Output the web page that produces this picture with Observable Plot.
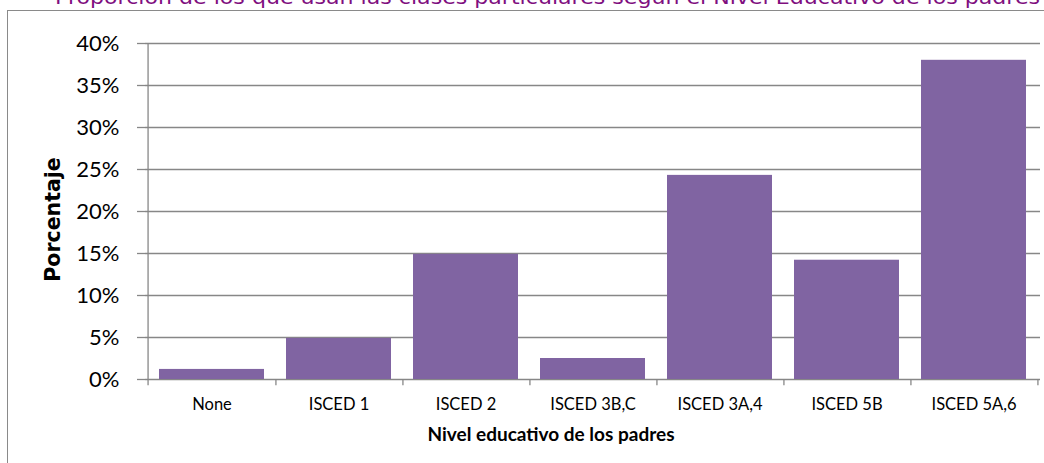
<!DOCTYPE html>
<html>
<head>
<meta charset="utf-8">
<script src="https://cdn.jsdelivr.net/npm/d3@7"></script>
<script src="https://cdn.jsdelivr.net/npm/@observablehq/plot@0.6"></script>
<style>
  html, body { margin: 0; padding: 0; background: #fff; overflow: hidden; }
  #wrap { position: relative; width: 1044px; height: 463px; overflow: hidden; }
  #frame { position: absolute; left: 7px; top: 10px; width: 1100px; height: 500px;
           border-left: 1.5px solid #8a8a8a; border-top: 1.5px solid #8a8a8a; }
  #title { position: absolute; left: 55px; top: -14px; transform-origin: 0 0;
           font-family: "DejaVu Sans", sans-serif; font-size: 19px; color: #7f0f7f; white-space: nowrap; }
  #chart { position: absolute; left: 0; top: 0; }
</style>
</head>
<body>
<div id="wrap">
  <div id="frame"></div>
  <span id="title">Proporción de los que usan las clases particulares según el Nivel Educativo de los padres</span>
  <div id="chart"></div>
</div>
<script>
const categories = ["None", "ISCED 1", "ISCED 2", "ISCED 3B,C", "ISCED 3A,4", "ISCED 5B", "ISCED 5A,6"];
const values = [1.2, 4.9, 14.9, 2.5, 24.3, 14.2, 38.0];
const yTicks = [0, 5, 10, 15, 20, 25, 30, 35, 40];
const yTitle = "Porcentaje";
const xTitle = "Nivel educativo de los padres";

const data = categories.map((c, i) => ({cat: c, value: values[i]}));

const W = 1044, H = 463;
const mL = 145, mR = 4, mT = 43, mB = 84;
const step = (W - mL - mR) / categories.length;
const grey = "#878787";
const font = "Lato, 'Open Sans', sans-serif";

const chart = Plot.plot({
  width: W, height: H,
  marginLeft: mL, marginRight: mR, marginTop: mT, marginBottom: mB,
  style: {fontFamily: font, background: "transparent", color: "#000", overflow: "visible"},
  x: {domain: categories, paddingInner: 0.17, paddingOuter: 0.085, label: null},
  y: {domain: [0, 40], label: null},
  marks: [
    Plot.ruleY(yTicks, {stroke: grey, strokeWidth: 1.3}),
    Plot.barY(data, {x: "cat", y: "value", fill: "#8064A2"}),
    Plot.ruleX([categories[0]], {stroke: grey, strokeWidth: 1.3, dx: -step / 2, y1: -0.75, y2: 40}),
    Plot.ruleX(categories, {stroke: grey, strokeWidth: 1.3, dx: step / 2, y1: 0, y2: -0.75}),
    Plot.axisY({ticks: yTicks, tickFormat: d => d + "%", tickSize: 8, tickPadding: 18, fontSize: 22,
                stroke: grey, strokeWidth: 1.3, label: null}),
    Plot.axisX({tickSize: 0, tickPadding: 19, fontSize: 16.5, label: null}),
    Plot.text([xTitle], {frameAnchor: "bottom", textAnchor: "middle", dx: -42, dy: 61, fontSize: 19,
                         fontWeight: "bold", fill: "#000"}),
    Plot.text([yTitle], {frameAnchor: "left", textAnchor: "middle", rotate: -90, dx: -92, dy: 8, fontSize: 20.5,
                         fontWeight: "bold", fontFamily: "'DejaVu Sans', sans-serif", fill: "#000"})
  ]
});
document.getElementById("chart").appendChild(chart);

// stretch the (clipped) title to the width it spans in the reference
const t = document.getElementById("title");
const w = t.getBoundingClientRect().width;
t.style.transform = `scaleX(${985 / w})`;
</script>
</body>
</html>
